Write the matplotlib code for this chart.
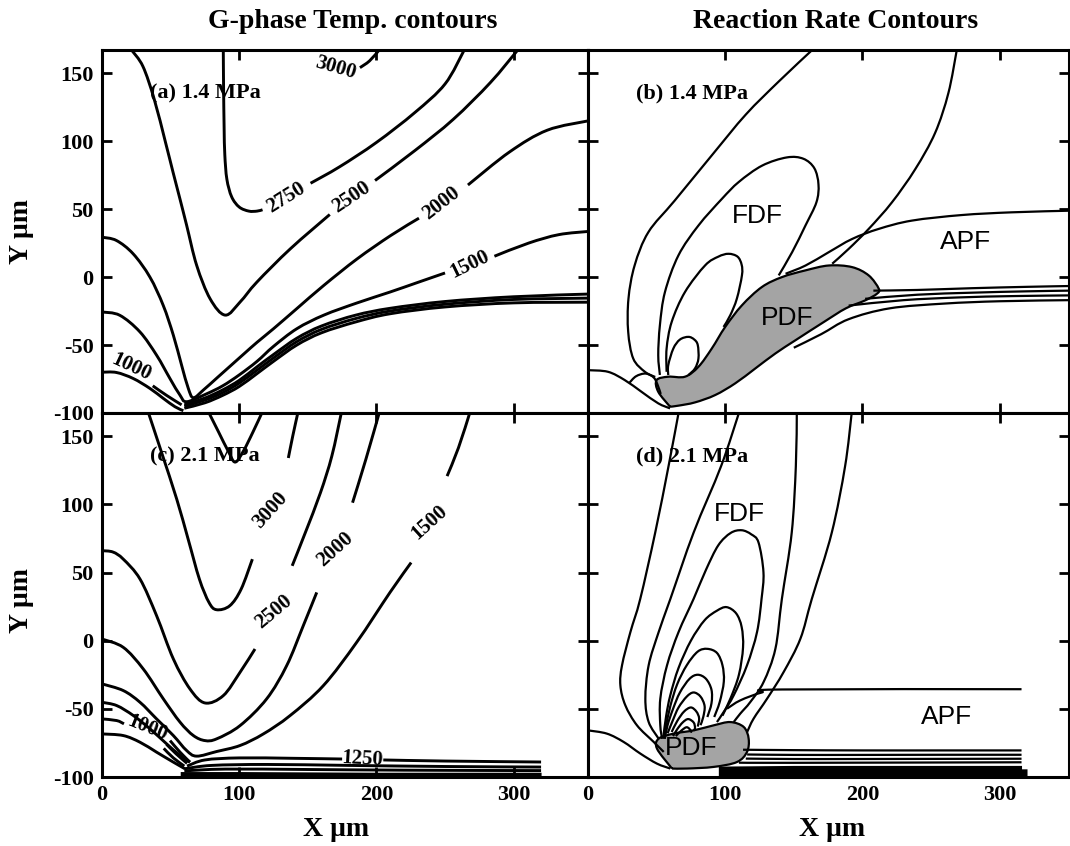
import matplotlib
matplotlib.use("Agg")
import matplotlib.pyplot as plt
import numpy as np
from matplotlib.path import Path
from matplotlib.patches import PathPatch

# ---------------- data (x, y in micrometres) ----------------
# panel (a): gas-phase temperature contours, 1.4 MPa
A_T3000 = ([188, 195, 202], [154, 159, 167])
A_T2750a = ([88.4, 88.6, 89, 89.5, 91, 94.5, 100, 107, 113, 117],
            [167, 140, 110, 90, 72, 59, 51.5, 48.5, 48.5, 49.5])
A_T2750b = ([152, 173, 200, 228, 250, 264], [69, 81, 99, 121, 142, 167])
A_T2500a = ([21.5, 29.8, 38, 46.3, 51.8, 56.8, 61.7, 69, 78.8, 89.8, 100.7, 112.9, 137.3, 166],
            [167, 155, 131, 99, 77, 57.5, 38, 8.6, -16, -28, -18.3, -3.7, 20.8, 46])
A_T2500b = ([199, 228, 256, 283, 303], [71, 93, 116, 143, 167])
A_T2000a = ([0, 10.5, 22.7, 34.9, 44.6, 52, 58, 62.9, 66.6, 74, 84, 94, 104, 113, 125, 142,
             161.7, 186, 210.5, 231],
            [29.3, 26.9, 17.1, 0, -20.8, -42.8, -64.8, -81.9, -88.8, -83, -74, -65, -56, -48, -38,
             -23.2, -6.1, 13.4, 30.6, 43.3])
A_T2000b = ([266.7, 297, 324.5, 355], [67.7, 92, 108, 115])
A_T1500a = ([0, 12.9, 27.6, 39.8, 49.5, 56.8, 61.7, 76, 88, 100, 113, 125, 142, 161.7, 186, 210,
             230, 250],
            [-25.7, -28.1, -40.3, -57.5, -74.6, -86.8, -91.7, -86, -80, -72, -62, -51, -38, -28,
             -19, -11, -4, 3])
A_T1500b = ([286, 311, 333, 355], [15.3, 25, 31.2, 33.6])
A_T1000a = ([0, 10.5, 22.7, 34.9, 44.6, 53.2, 59.3], [-70, -70.2, -74.6, -81.9, -89.2, -95.4, -98.3])
A_T1000b = ([37, 47, 58], [-80, -87, -94])
A_BUNDLE_X = [60, 75, 88, 100, 113, 125, 142, 160, 185, 210, 250, 300, 355]
A_BUNDLE_Y1 = [-94, -89, -83, -76, -66, -57, -45, -36, -28, -23, -18, -14.5, -12.5]
A_BUNDLE_Y2 = [-95, -90.5, -85, -78, -68.5, -59.5, -47.5, -38.5, -30.5, -25, -20, -16.5, -15.5]
A_BUNDLE_Y3 = [-96.5, -92.5, -87, -80.5, -71, -62, -50, -41, -33, -27, -22, -19, -18.5]
A_LABELS = [("3000", 170, 154, -16), ("2750", 134, 58, 32), ("2500", 182, 59, 34),
            ("2000", 247, 54, 38), ("1500", 268, 9, 26), ("1000", 21.5, -66, -25)]

# panel (b): reaction rate contours, 1.4 MPa
B_OUTER_L = ([163.4, 139.2, 115, 90.8, 63, 44, 34, 29.5, 29.3, 33, 41.5, 49],
             [167, 144, 119.5, 90.2, 56, 33, 8.6, -15.9, -40.3, -60, -69.7, -73.5])
B_OUTER_R = ([268.8, 262.7, 253, 238.5, 221.5, 204.6, 190, 178],
             [167, 135.4, 106, 79.3, 54.9, 35.4, 20.7, 9.8])
B_FDF = ([52.4, 51.2, 52.4, 56.1, 65.9, 80.5, 97.6, 110, 127, 145, 157, 165, 168, 166.5, 158.5, 148.8, 139],
         [-72, -57.5, -35.5, -11, 15.9, 37.9, 57.5, 70, 82, 88, 87, 80, 68, 55, 37.9, 18.3, 1.2])
B_LOOP2 = ([57.3, 57.3, 61, 70.7, 85.4, 95, 102.4, 109, 112, 112.2, 108.5, 103.7, 98.8],
           [-69.7, -52.6, -33, -11, 8.6, 15, 17.1, 15, 9, 1.2, -15.9, -28.1, -36.7])
B_LOOP3 = ([58.5, 58.5, 62.2, 67, 73.2, 77.5, 80, 80.5, 78, 73.2],
           [-72.1, -64.8, -52.6, -46, -44, -46, -50, -59.9, -67.2, -72.1])
B_LEFT = ([0, 14.6, 26.8, 39, 51.2, 59.8], [-68.5, -69.7, -75.8, -84.4, -92.9, -96.6])
B_SMALL = ([30, 35, 42, 48, 51, 53], [-78, -73, -71, -74, -80, -86])
B_APF = ([351, 308.7, 272.4, 236, 211.9, 192.5, 175.5, 158.6, 144],
         [48.8, 47.6, 45.6, 41.5, 35.4, 28, 18.3, 8.5, 2.4])
B_PDF = ([59.8, 51.2, 50, 58.5, 70.7, 80.5, 90.2, 100, 112.2, 126.8, 141.5, 158.5, 175.6, 192.5,
          204.6, 211.9, 210.7, 202.2, 188, 172, 151.2, 136.6, 122, 107.3, 92.7, 78, 65.9, 59.8],
         [-95.4, -84.4, -75.8, -73.3, -73.3, -66, -52.6, -36.7, -20.8, -7.3, 0, 4.9, 8.5, 7.3,
          1.2, -8.5, -12.2, -17.1, -23, -33, -46.5, -56.2, -67.2, -78.2, -86.8, -92.2, -94.6, -95.4])
B_L1 = ([208, 240, 280, 320, 351], [-10, -9.5, -8.2, -7.2, -6.6])
B_L2 = ([202, 240, 280, 320, 351], [-16, -13, -11.5, -10.5, -10])
B_L3 = ([190, 230, 270, 310, 351], [-21, -17, -15, -14, -13.5])
B_L4 = ([150, 170, 190, 220, 260, 300, 351], [-52, -42, -31, -23, -19.5, -17.8, -17])
B_TEXT = [("FDF", 123.5, 45), ("PDF", 145, -30), ("APF", 275, 25.6)]

# panel (c): gas-phase temperature contours, 2.1 MPa
C_T3250 = ([78, 85, 92, 97, 103, 110, 116.5], [167, 153, 139, 131, 139, 153, 167])
C_T3000a = ([33.9, 43.5, 54.5, 62.8, 71, 78, 83.5, 93.1, 101.4, 109.6],
            [167, 137.8, 103.7, 74.4, 45.1, 28, 22.7, 25.6, 37.8, 59.8])
C_T3000b = ([135.8, 139, 142.7], [134, 150, 167])
C_T2500a = ([0, 8, 15.5, 27.7, 39.8, 52, 64.1, 75.1, 88.4, 100.6, 111.5],
            [66, 65, 59.8, 45.2, 18.3, -13.4, -35.4, -45.7, -40.3, -23.2, -6.1])
C_T2500b = ([138.6, 148.2, 159.2, 167.5, 174.4], [54.9, 79.3, 108.5, 135.4, 167])
C_T2000a = ([0, 15.5, 30.1, 44.7, 56.9, 66.6, 75.1, 83.6, 100.6, 120, 134.6, 146.7, 156.5],
            [1.2, -4.9, -20.8, -42.7, -59.8, -69.6, -73.3, -72, -62.3, -42.7, -18.3, 11, 35.4])
C_T2000b = ([182.6, 192.3, 202], [101.2, 133, 167])
C_T1500a = ([0, 15.5, 27.7, 39.8, 52, 61.7, 69, 83.6, 100.6, 117.6, 137, 161.3, 185.6, 209.9, 225.3],
            [-31.7, -36.6, -45.2, -57.4, -69.6, -80.6, -84.7, -81.3, -76.9, -68.4, -55, -33, -1.2,
             35.4, 57.3])
C_T1500b = ([251.5, 259.8, 268], [120.7, 141.5, 167])
C_L1 = ([0, 10.7, 22.8, 35, 47.1, 56.9, 64.1], [-45.2, -47.6, -54.9, -64.7, -75.7, -84.2, -89.1])
C_T1000a = ([0, 10.7, 16], [-57.4, -58.6, -61])
C_T1000b = ([49.6, 56.9, 64.1], [-73.3, -81.8, -89.1])
C_L3 = ([0, 15.5, 27.7, 39.8, 52, 60.5], [-68.4, -69.6, -74.5, -81.8, -89.1, -94])
C_S1 = ([47, 54, 62], [-76, -83, -90])
C_S2 = ([45, 52, 60], [-79, -86, -92])
C_B1a = ([62, 75, 100, 140, 175], [-92, -87.5, -86, -86.3, -86.8])
C_B1b = ([205, 250, 320], [-87.5, -88.3, -89])
C_B2 = ([60, 80, 120, 180, 250, 320], [-94, -91.5, -90.8, -91.5, -92.3, -92.7])
C_B3 = ([60, 90, 150, 220, 320], [-95.5, -94.2, -94.5, -95, -95.3])
C_BAND_X = [57, 100, 200, 320]
C_BAND_TOP = [-96, -96, -96.5, -96.5]
C_LABELS = [("3000", 123, 96, 48), ("2500", 125, 21, 40), ("2000", 170, 67, 42),
            ("1500", 239, 87, 42), ("1000", 33, -64, -22), ("1250", 190, -86.5, -3)]

# panel (d): reaction rate contours, 2.1 MPa
D1 = ([66, 58.7, 49, 38.1, 30.9, 24.8, 23.6, 27.2, 35.7, 47.9, 55.2],
      [167, 128, 79.3, 30.7, 6.3, -18.1, -32.8, -47.4, -62.1, -74.3, -81.6])
D2 = ([110, 97, 77, 60, 51.5, 44.2, 41.8, 44.2, 51.5],
      [167, 128, 79.3, 30.5, 6.3, -18.1, -42.6, -59.6, -71.9])
D3 = ([152.2, 151.5, 148.5, 141.3, 136.6, 128, 118.3, 111, 106.2],
      [167, 128, 79.3, 30.5, -5.9, -30.3, -45, -53.5, -59.7])
D4 = ([192.2, 187.4, 177.7, 163.1, 154.8, 142.6, 130.5, 120.7, 116],
      [167, 128, 79.3, 30.5, 1.4, -23, -42.6, -57.2, -67])
D_LOOP1 = ([54, 52.7, 52.7, 57.6, 66, 77, 86, 95, 104, 112, 119, 124.3, 127.9, 126.5, 123.2, 115.9, 106.2, 98.9, 94],
           [-72, -62.1, -42.6, -18.1, 6.3, 30.7, 52, 70, 79, 81, 78, 72, 50, 30.7, 6.3, -18.1, -40.1, -52.3, -59.7])
D_LOOP2 = ([55, 57, 60, 66, 75, 85, 94, 101, 108, 112, 113, 110, 104, 98],
           [-70, -55, -40, -20, 0, 15, 22, 24.6, 20, 10, -5, -25, -42, -55])
D_LOOP3 = ([55, 57, 60, 65, 72, 80, 87, 94, 98, 99, 96, 92],
           [-72, -62, -48, -32, -18, -8, -6, -9, -18, -30, -45, -56])
D_LOOP4 = ([56, 58, 62, 67, 74, 80, 86, 90, 90, 87], [-72, -62, -50, -38, -28, -25, -28, -36, -46, -56])
D_LOOP5 = ([58, 62, 66, 72, 77, 82, 85, 84, 82], [-68, -58, -49, -41, -38, -41, -48, -56, -62])
D_LOOP6 = ([61, 65, 70, 75, 79, 81, 80], [-67, -59, -52, -49, -52, -57, -63])
D_LOOP7 = ([62, 65, 69, 73, 77, 78, 77], [-70, -65, -60, -57.5, -60, -64, -66])
D_LOOP8 = ([64, 68, 72, 75, 75], [-70, -66, -63.5, -66, -67.5])
D_APF = ([316, 141.3, 126.7, 111, 101.3], [-35.6, -35.8, -38, -43.8, -49.9])
D_LEFT = ([0, 13.8, 26, 38.1, 50.3, 60], [-65.8, -68.2, -74.3, -82.8, -90.2, -93.8])
D_PDF = ([61.2, 50.3, 51.5, 62.4, 77, 91.6, 103.7, 113.5, 117.1, 115.9, 108.6, 91.6, 72.2, 61.2],
         [-93.8, -79.2, -71.9, -68.2, -65.8, -62.1, -59.7, -63.3, -71.9, -81.6, -89, -92.6, -93.8, -93.8])
D_B1 = ([113, 150, 200, 260, 316], [-80, -80.3, -80.5, -80.5, -80.5])
D_B2 = ([116, 150, 200, 260, 316], [-83.5, -83.8, -83.8, -83.7, -83.7])
D_B3 = ([115, 150, 200, 316], [-86.5, -86.8, -86.8, -86.6])
D_B4 = ([110, 150, 316], [-89.5, -89.6, -89.2])
D_BAND_X = [95, 150, 316, 316, 320]
D_BAND_TOP = [-92, -91.5, -91.5, -94, -94]
D_TEXT = [("FDF", 110, 92.7), ("PDF", 75, -79), ("APF", 261, -56)]

PANEL_TAGS = ["(a) 1.4 MPa", "(b) 1.4 MPa", "(c) 2.1 MPa", "(d) 2.1 MPa"]
XTICKS = [100, 200, 300]
YTICKS = [-100, -50, 0, 50, 100, 150]

# ---------------- drawing ----------------
SERIF = ["Liberation Serif", "DejaVu Serif"]
SANS = ["Liberation Sans", "DejaVu Sans"]
plt.rcParams["font.family"] = SERIF
plt.rcParams["font.weight"] = "bold"

fig = plt.figure(figsize=(10.7, 8.46), dpi=100)
W, H = 1070.0, 846.0
cols = [(102, 588, 354.2), (588, 1069, 350.6)]
rows = [(50, 413), (413, 777)]

axes = {}
for r, (top, bot) in enumerate(rows):
    for c, (l, rgt, xmax) in enumerate(cols):
        ax = fig.add_axes([l / W, 1 - bot / H, (rgt - l) / W, (bot - top) / H])
        ax.set_xlim(0, xmax)
        ax.set_ylim(-100, 167)
        ax.tick_params(direction="in", length=7, width=2, top=True, right=True,
                       labelsize=16, pad=6)
        for s in ax.spines.values():
            s.set_linewidth(2.2)
        ax.set_yticks(YTICKS)
        if c == 0:
            ax.set_yticklabels([str(v) for v in YTICKS])
        else:
            ax.set_yticklabels([])
        ax.set_xticks([0] + XTICKS)
        if r == 0:
            ax.set_xticklabels([])
        else:
            ax.set_xticklabels(["0", "100", "200", "300"])
        # no marks at the frame corners
        for t in (ax.xaxis.get_major_ticks()[0], ax.yaxis.get_major_ticks()[0]):
            t.tick1line.set_visible(False)
            t.tick2line.set_visible(False)
        ax.text(35, 135, PANEL_TAGS[r * 2 + c], fontsize=16, fontweight="bold",
                va="center", ha="left", zorder=5)
        axes[(r, c)] = ax


def smooth_path(xs, ys):
    # cubic Bezier segments through the read points (Catmull-Rom tangents)
    p = np.column_stack([xs, ys]).astype(float)
    n = len(p)
    if n < 3:
        return Path(p)
    verts = [p[0]]
    codes = [Path.MOVETO]
    for i in range(n - 1):
        p0 = p[i - 1] if i > 0 else p[i]
        p3 = p[i + 2] if i + 2 < n else p[i + 1]
        c1 = p[i] + (p[i + 1] - p0) / 6.0
        c2 = p[i + 1] - (p3 - p[i]) / 6.0
        verts += [c1, c2, p[i + 1]]
        codes += [Path.CURVE4] * 3
    return Path(verts, codes)


def draw(ax, curve, lw):
    ax.add_patch(PathPatch(smooth_path(*curve), facecolor="none", edgecolor="black",
                           lw=lw, capstyle="butt", joinstyle="round", zorder=3))


def blob(ax, curve, lw):
    ax.add_patch(PathPatch(smooth_path(*curve), facecolor="#a4a4a4", edgecolor="black",
                           lw=lw, joinstyle="round", zorder=2))


def clabels(ax, labels):
    for txt, x, y, rot in labels:
        ax.text(x, y, txt, fontsize=15, fontweight="bold", rotation=rot,
                rotation_mode="anchor", ha="center", va="center", zorder=4)


def region_labels(ax, labels):
    for txt, x, y in labels:
        ax.text(x, y, txt, fontsize=19, family=SANS, fontweight="normal",
                ha="center", va="center", zorder=4)


LW_T, LW_R = 2.1, 1.6

ax = axes[(0, 0)]
for cv in [A_T3000, A_T2750a, A_T2750b, A_T2500a, A_T2500b, A_T2000a, A_T2000b,
           A_T1500a, A_T1500b, A_T1000a, A_T1000b]:
    draw(ax, cv, LW_T)
for yy in [A_BUNDLE_Y1, A_BUNDLE_Y2, A_BUNDLE_Y3]:
    draw(ax, (A_BUNDLE_X, yy), LW_T)
clabels(ax, A_LABELS)

ax = axes[(0, 1)]
blob(ax, B_PDF, LW_R)
for cv in [B_OUTER_L, B_OUTER_R, B_FDF, B_LOOP2, B_LOOP3, B_LEFT, B_SMALL, B_APF,
           B_L1, B_L2, B_L3, B_L4]:
    draw(ax, cv, LW_R)
region_labels(ax, B_TEXT)

ax = axes[(1, 0)]
for cv in [C_T3250, C_T3000a, C_T3000b, C_T2500a, C_T2500b, C_T2000a, C_T2000b,
           C_T1500a, C_T1500b, C_L1, C_T1000a, C_T1000b, C_L3, C_S1, C_S2,
           C_B1a, C_B1b, C_B2, C_B3]:
    draw(ax, cv, LW_T)
ax.fill_between(C_BAND_X, -99.5, C_BAND_TOP, color="black", lw=0, zorder=3)
clabels(ax, C_LABELS)

ax = axes[(1, 1)]
blob(ax, D_PDF, LW_R)
for cv in [D1, D2, D3, D4, D_LOOP1, D_LOOP2, D_LOOP3, D_LOOP4, D_LOOP5, D_LOOP6,
           D_LOOP7, D_LOOP8, D_APF, D_LEFT, D_B1, D_B2, D_B3, D_B4]:
    draw(ax, cv, LW_R)
ax.fill_between(D_BAND_X, -99.5, D_BAND_TOP, color="black", lw=0, zorder=3)
region_labels(ax, D_TEXT)

# titles and axis names
fig.text(353 / W, 1 - 21 / H, "G-phase Temp. contours", fontsize=20, fontweight="bold",
         ha="center", va="center")
fig.text(836 / W, 1 - 21 / H, "Reaction Rate Contours", fontsize=20, fontweight="bold",
         ha="center", va="center")
for yc in [232, 600]:
    fig.text(22 / W, 1 - yc / H, "Y \u03bcm", fontsize=20, fontweight="bold",
             rotation=90, ha="center", va="center")
for xc in [336, 832]:
    fig.text(xc / W, 1 - 829 / H, "X \u03bcm", fontsize=20, fontweight="bold",
             ha="center", va="center")

fig.savefig("out.png", dpi=100)
